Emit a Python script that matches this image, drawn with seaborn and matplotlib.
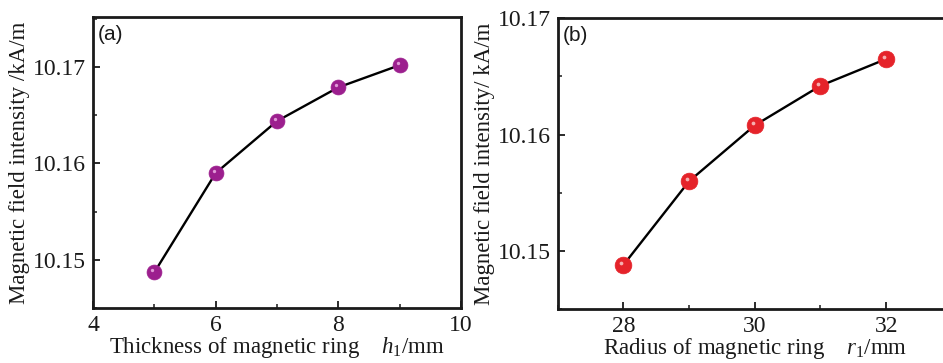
import matplotlib
matplotlib.use("Agg")
import matplotlib.pyplot as plt
import matplotlib.transforms as mtransforms
from matplotlib.ticker import MultipleLocator, FormatStrFormatter
import seaborn as sns
import pandas as pd

# ---- data ----
thickness_mm = [5, 6, 7, 8, 9]
field_a = [10.1487, 10.1590, 10.1644, 10.1679, 10.1702]
radius_mm = [28, 29, 30, 31, 32]
field_b = [10.1488, 10.1560, 10.1608, 10.1642, 10.1665]

xlabel_a = r"Thickness of magnetic ring    $h_1$/mm"
xlabel_b = r"Radius of magnetic ring    $r_1$/mm"
ylabel_a = "Magnetic field intensity /kA/m"
ylabel_b = "Magnetic field intensity/ kA/m"

sns.set_theme(style="ticks")
plt.rcParams["font.family"] = ["Liberation Serif", "DejaVu Serif"]
plt.rcParams["mathtext.fontset"] = "custom"
plt.rcParams["mathtext.rm"] = "Liberation Serif"
plt.rcParams["mathtext.it"] = "Liberation Serif:italic"

fig = plt.figure(figsize=(9.43, 3.63), dpi=100)
ax_a = fig.add_axes([0.0986, 0.1515, 0.3903, 0.8017])
ax_b = fig.add_axes([0.5914, 0.148, 0.418, 0.8017])

df_a = pd.DataFrame({"x": thickness_mm, "y": field_a})
df_b = pd.DataFrame({"x": radius_mm, "y": field_b})

def draw(ax, df, color, hl, ms):
    sns.lineplot(data=df, x="x", y="y", ax=ax, color="black", lw=1.7, zorder=2)
    sns.scatterplot(data=df, x="x", y="y", ax=ax, color=color, s=ms,
                    edgecolor=color, linewidth=0.5, zorder=3)
    off = mtransforms.offset_copy(ax.transData, fig=fig, x=-2, y=2, units="dots")
    ax.scatter(df["x"], df["y"], s=ms * 0.05, color=hl, alpha=0.9,
               linewidths=0, zorder=4, transform=off)

draw(ax_a, df_a, "#9c1f8e", "#e8a8e0", 115)
draw(ax_b, df_b, "#e5232a", "#f8c0c0", 145)

ax_a.set_xlim(4, 10)
ax_a.set_ylim(10.145, 10.1752)
ax_a.xaxis.set_major_locator(MultipleLocator(2))
ax_a.xaxis.set_minor_locator(MultipleLocator(1))
ax_a.set_yticks([10.15, 10.16, 10.17])
ax_a.yaxis.set_minor_locator(MultipleLocator(0.005))

ax_b.set_xlim(27, 33)
ax_b.set_ylim(10.145, 10.17)
ax_b.xaxis.set_major_locator(MultipleLocator(2))
ax_b.xaxis.set_minor_locator(MultipleLocator(1))
ax_b.set_xticks([28, 30, 32])
ax_b.set_yticks([10.15, 10.16, 10.17])
ax_b.yaxis.set_minor_locator(MultipleLocator(0.005))

for ax, xl, yl, tag in [(ax_a, xlabel_a, ylabel_a, "(a)"), (ax_b, xlabel_b, ylabel_b, "(b)")]:
    ax.yaxis.set_major_formatter(FormatStrFormatter("%.2f"))
    ax.tick_params(which="major", direction="in", length=5, width=1.3,
                   labelsize=17, pad=5, top=False, right=False, colors="#1a1a1a")
    ax.tick_params(which="minor", direction="in", length=3, width=1.1,
                   top=False, right=False, colors="#1a1a1a")
    for s in ax.spines.values():
        s.set_visible(True)
        s.set_linewidth(2.0)
        s.set_color("#1a1a1a")
    ax.set_xlabel(xl, fontsize=16.5, labelpad=-1, color="#1a1a1a")
    ax.set_ylabel(yl, fontsize=16.5, color="#1a1a1a")
    ax.text(0.012, 0.972, tag, transform=ax.transAxes, ha="left", va="top",
            fontsize=15, color="#1a1a1a", family=["Liberation Sans", "DejaVu Sans"])

ax_a.yaxis.set_label_coords(-0.171, 0.5)
ax_b.yaxis.set_label_coords(-0.159, 0.5)

fig.savefig("out.png", dpi=100)
